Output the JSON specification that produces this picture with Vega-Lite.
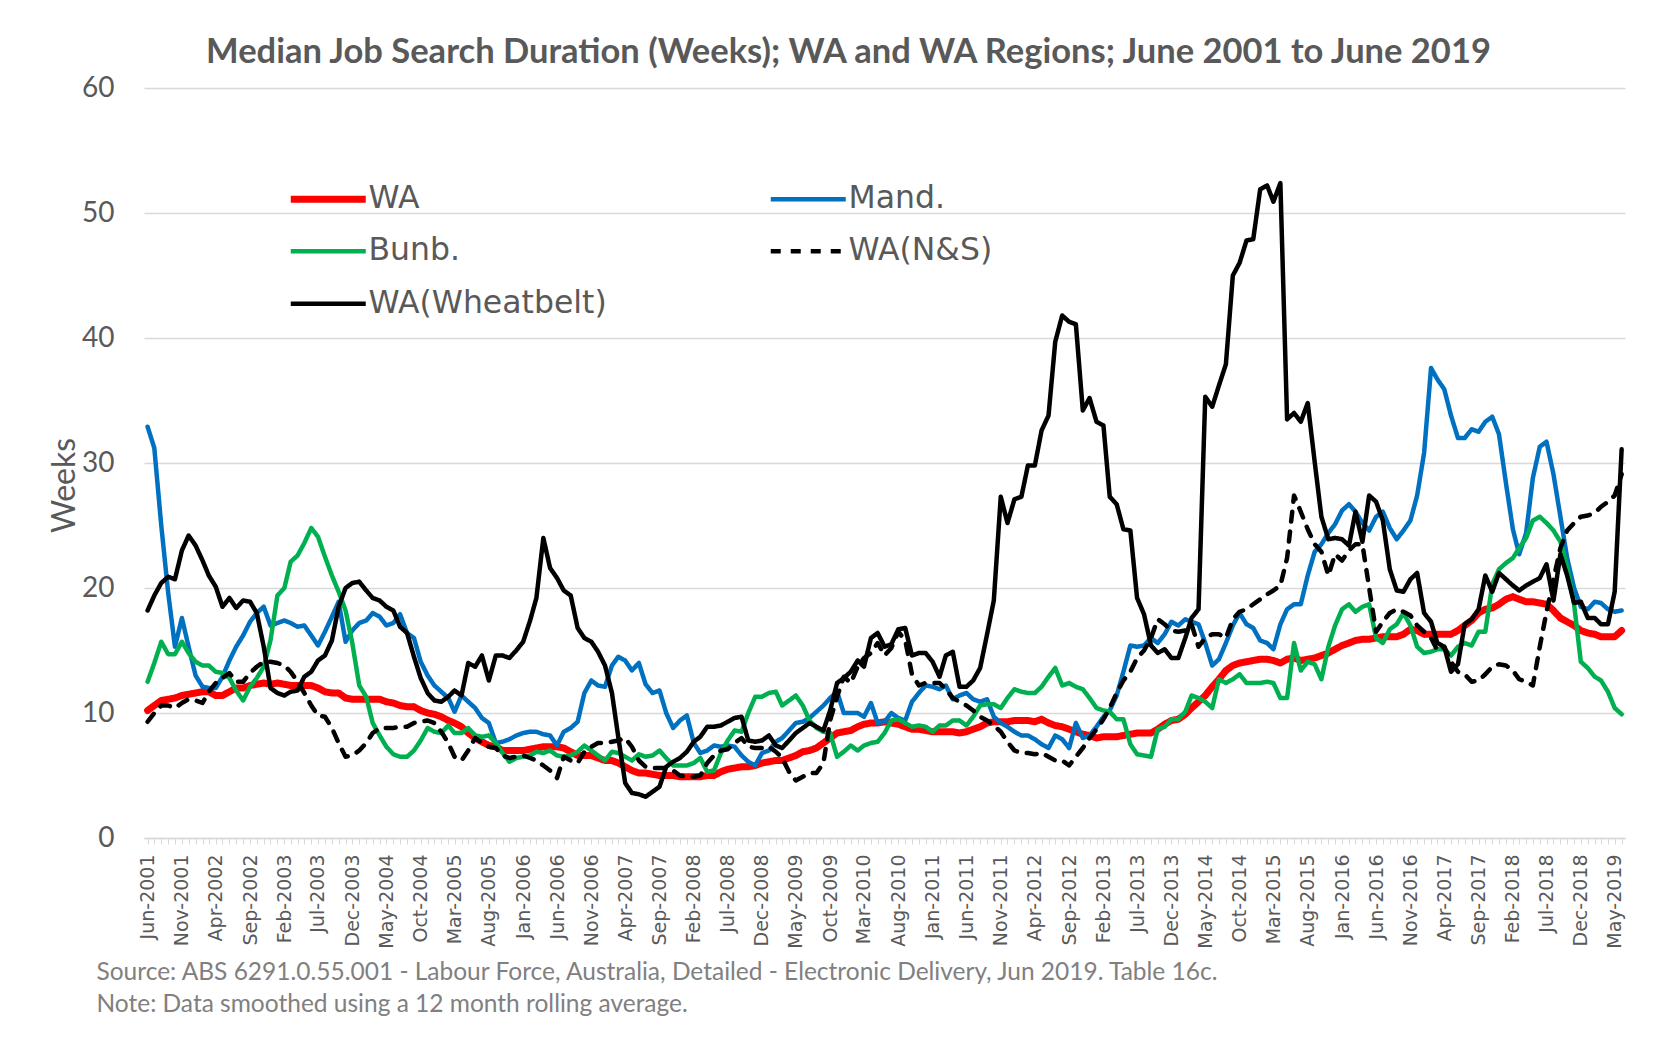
{
"$schema": "https://vega.github.io/schema/vega-lite/v6.json",
"width": 1481, "height": 750,
"autosize": {"type": "none"},
"padding": {"left": 144, "top": 88, "right": 45, "bottom": 216},
"background": "white",
"config": {"view": {"stroke": null}},
"title": {"text": "Median Job Search Duration (Weeks); WA and WA Regions; June 2001 to June 2019", "font": "Lato", "fontSize": 34.5, "fontWeight": "bold", "color": "#595959", "anchor": "middle", "dx": -36, "offset": 4},
"data": {"values": [
{"d":"2001-06","s":"WA","v":10.2},{"d":"2001-07","s":"WA","v":10.6},{"d":"2001-08","s":"WA","v":11.0},{"d":"2001-09","s":"WA","v":11.1},{"d":"2001-10","s":"WA","v":11.2},{"d":"2001-11","s":"WA","v":11.4},{"d":"2001-12","s":"WA","v":11.5},
{"d":"2002-01","s":"WA","v":11.6},{"d":"2002-02","s":"WA","v":11.7},{"d":"2002-03","s":"WA","v":11.7},{"d":"2002-04","s":"WA","v":11.4},{"d":"2002-05","s":"WA","v":11.4},{"d":"2002-06","s":"WA","v":11.7},{"d":"2002-07","s":"WA","v":12.0},{"d":"2002-08","s":"WA","v":12.0},{"d":"2002-09","s":"WA","v":12.2},{"d":"2002-10","s":"WA","v":12.3},{"d":"2002-11","s":"WA","v":12.4},{"d":"2002-12","s":"WA","v":12.3},
{"d":"2003-01","s":"WA","v":12.4},{"d":"2003-02","s":"WA","v":12.3},{"d":"2003-03","s":"WA","v":12.2},{"d":"2003-04","s":"WA","v":12.2},{"d":"2003-05","s":"WA","v":12.2},{"d":"2003-06","s":"WA","v":12.2},{"d":"2003-07","s":"WA","v":12.0},{"d":"2003-08","s":"WA","v":11.7},{"d":"2003-09","s":"WA","v":11.6},{"d":"2003-10","s":"WA","v":11.6},{"d":"2003-11","s":"WA","v":11.2},{"d":"2003-12","s":"WA","v":11.1},
{"d":"2004-01","s":"WA","v":11.1},{"d":"2004-02","s":"WA","v":11.1},{"d":"2004-03","s":"WA","v":11.1},{"d":"2004-04","s":"WA","v":11.1},{"d":"2004-05","s":"WA","v":10.9},{"d":"2004-06","s":"WA","v":10.8},{"d":"2004-07","s":"WA","v":10.6},{"d":"2004-08","s":"WA","v":10.5},{"d":"2004-09","s":"WA","v":10.5},{"d":"2004-10","s":"WA","v":10.2},{"d":"2004-11","s":"WA","v":10.0},{"d":"2004-12","s":"WA","v":9.9},
{"d":"2005-01","s":"WA","v":9.7},{"d":"2005-02","s":"WA","v":9.4},{"d":"2005-03","s":"WA","v":9.2},{"d":"2005-04","s":"WA","v":8.9},{"d":"2005-05","s":"WA","v":8.4},{"d":"2005-06","s":"WA","v":8.0},{"d":"2005-07","s":"WA","v":7.7},{"d":"2005-08","s":"WA","v":7.4},{"d":"2005-09","s":"WA","v":7.3},{"d":"2005-10","s":"WA","v":7.0},{"d":"2005-11","s":"WA","v":7.0},{"d":"2005-12","s":"WA","v":7.0},
{"d":"2006-01","s":"WA","v":7.0},{"d":"2006-02","s":"WA","v":7.1},{"d":"2006-03","s":"WA","v":7.2},{"d":"2006-04","s":"WA","v":7.3},{"d":"2006-05","s":"WA","v":7.3},{"d":"2006-06","s":"WA","v":7.3},{"d":"2006-07","s":"WA","v":7.2},{"d":"2006-08","s":"WA","v":6.9},{"d":"2006-09","s":"WA","v":6.6},{"d":"2006-10","s":"WA","v":6.6},{"d":"2006-11","s":"WA","v":6.6},{"d":"2006-12","s":"WA","v":6.4},
{"d":"2007-01","s":"WA","v":6.2},{"d":"2007-02","s":"WA","v":6.2},{"d":"2007-03","s":"WA","v":6.0},{"d":"2007-04","s":"WA","v":5.7},{"d":"2007-05","s":"WA","v":5.4},{"d":"2007-06","s":"WA","v":5.2},{"d":"2007-07","s":"WA","v":5.2},{"d":"2007-08","s":"WA","v":5.1},{"d":"2007-09","s":"WA","v":5.0},{"d":"2007-10","s":"WA","v":5.0},{"d":"2007-11","s":"WA","v":5.0},{"d":"2007-12","s":"WA","v":4.9},
{"d":"2008-01","s":"WA","v":4.9},{"d":"2008-02","s":"WA","v":4.9},{"d":"2008-03","s":"WA","v":4.9},{"d":"2008-04","s":"WA","v":5.0},{"d":"2008-05","s":"WA","v":5.0},{"d":"2008-06","s":"WA","v":5.3},{"d":"2008-07","s":"WA","v":5.5},{"d":"2008-08","s":"WA","v":5.6},{"d":"2008-09","s":"WA","v":5.7},{"d":"2008-10","s":"WA","v":5.7},{"d":"2008-11","s":"WA","v":5.8},{"d":"2008-12","s":"WA","v":6.0},
{"d":"2009-01","s":"WA","v":6.1},{"d":"2009-02","s":"WA","v":6.2},{"d":"2009-03","s":"WA","v":6.2},{"d":"2009-04","s":"WA","v":6.4},{"d":"2009-05","s":"WA","v":6.6},{"d":"2009-06","s":"WA","v":6.9},{"d":"2009-07","s":"WA","v":7.0},{"d":"2009-08","s":"WA","v":7.2},{"d":"2009-09","s":"WA","v":7.6},{"d":"2009-10","s":"WA","v":8.0},{"d":"2009-11","s":"WA","v":8.4},{"d":"2009-12","s":"WA","v":8.5},
{"d":"2010-01","s":"WA","v":8.6},{"d":"2010-02","s":"WA","v":8.9},{"d":"2010-03","s":"WA","v":9.1},{"d":"2010-04","s":"WA","v":9.2},{"d":"2010-05","s":"WA","v":9.2},{"d":"2010-06","s":"WA","v":9.3},{"d":"2010-07","s":"WA","v":9.2},{"d":"2010-08","s":"WA","v":9.1},{"d":"2010-09","s":"WA","v":8.9},{"d":"2010-10","s":"WA","v":8.7},{"d":"2010-11","s":"WA","v":8.7},{"d":"2010-12","s":"WA","v":8.6},
{"d":"2011-01","s":"WA","v":8.5},{"d":"2011-02","s":"WA","v":8.5},{"d":"2011-03","s":"WA","v":8.5},{"d":"2011-04","s":"WA","v":8.5},{"d":"2011-05","s":"WA","v":8.4},{"d":"2011-06","s":"WA","v":8.5},{"d":"2011-07","s":"WA","v":8.7},{"d":"2011-08","s":"WA","v":8.9},{"d":"2011-09","s":"WA","v":9.2},{"d":"2011-10","s":"WA","v":9.3},{"d":"2011-11","s":"WA","v":9.3},{"d":"2011-12","s":"WA","v":9.3},
{"d":"2012-01","s":"WA","v":9.4},{"d":"2012-02","s":"WA","v":9.4},{"d":"2012-03","s":"WA","v":9.4},{"d":"2012-04","s":"WA","v":9.3},{"d":"2012-05","s":"WA","v":9.5},{"d":"2012-06","s":"WA","v":9.2},{"d":"2012-07","s":"WA","v":9.0},{"d":"2012-08","s":"WA","v":8.9},{"d":"2012-09","s":"WA","v":8.7},{"d":"2012-10","s":"WA","v":8.5},{"d":"2012-11","s":"WA","v":8.3},{"d":"2012-12","s":"WA","v":8.2},
{"d":"2013-01","s":"WA","v":8.0},{"d":"2013-02","s":"WA","v":8.1},{"d":"2013-03","s":"WA","v":8.1},{"d":"2013-04","s":"WA","v":8.1},{"d":"2013-05","s":"WA","v":8.2},{"d":"2013-06","s":"WA","v":8.3},{"d":"2013-07","s":"WA","v":8.4},{"d":"2013-08","s":"WA","v":8.4},{"d":"2013-09","s":"WA","v":8.4},{"d":"2013-10","s":"WA","v":8.7},{"d":"2013-11","s":"WA","v":9.1},{"d":"2013-12","s":"WA","v":9.4},
{"d":"2014-01","s":"WA","v":9.5},{"d":"2014-02","s":"WA","v":9.9},{"d":"2014-03","s":"WA","v":10.4},{"d":"2014-04","s":"WA","v":10.9},{"d":"2014-05","s":"WA","v":11.4},{"d":"2014-06","s":"WA","v":12.1},{"d":"2014-07","s":"WA","v":12.7},{"d":"2014-08","s":"WA","v":13.4},{"d":"2014-09","s":"WA","v":13.8},{"d":"2014-10","s":"WA","v":14.0},{"d":"2014-11","s":"WA","v":14.1},{"d":"2014-12","s":"WA","v":14.2},
{"d":"2015-01","s":"WA","v":14.3},{"d":"2015-02","s":"WA","v":14.3},{"d":"2015-03","s":"WA","v":14.2},{"d":"2015-04","s":"WA","v":14.0},{"d":"2015-05","s":"WA","v":14.3},{"d":"2015-06","s":"WA","v":14.4},{"d":"2015-07","s":"WA","v":14.2},{"d":"2015-08","s":"WA","v":14.3},{"d":"2015-09","s":"WA","v":14.4},{"d":"2015-10","s":"WA","v":14.6},{"d":"2015-11","s":"WA","v":14.8},{"d":"2015-12","s":"WA","v":15.1},
{"d":"2016-01","s":"WA","v":15.4},{"d":"2016-02","s":"WA","v":15.6},{"d":"2016-03","s":"WA","v":15.8},{"d":"2016-04","s":"WA","v":15.9},{"d":"2016-05","s":"WA","v":15.9},{"d":"2016-06","s":"WA","v":16.0},{"d":"2016-07","s":"WA","v":16.1},{"d":"2016-08","s":"WA","v":16.1},{"d":"2016-09","s":"WA","v":16.1},{"d":"2016-10","s":"WA","v":16.3},{"d":"2016-11","s":"WA","v":16.7},{"d":"2016-12","s":"WA","v":16.6},
{"d":"2017-01","s":"WA","v":16.3},{"d":"2017-02","s":"WA","v":16.3},{"d":"2017-03","s":"WA","v":16.3},{"d":"2017-04","s":"WA","v":16.3},{"d":"2017-05","s":"WA","v":16.3},{"d":"2017-06","s":"WA","v":16.6},{"d":"2017-07","s":"WA","v":17.0},{"d":"2017-08","s":"WA","v":17.4},{"d":"2017-09","s":"WA","v":18.0},{"d":"2017-10","s":"WA","v":18.3},{"d":"2017-11","s":"WA","v":18.4},{"d":"2017-12","s":"WA","v":18.7},
{"d":"2018-01","s":"WA","v":19.1},{"d":"2018-02","s":"WA","v":19.3},{"d":"2018-03","s":"WA","v":19.1},{"d":"2018-04","s":"WA","v":18.9},{"d":"2018-05","s":"WA","v":18.9},{"d":"2018-06","s":"WA","v":18.8},{"d":"2018-07","s":"WA","v":18.7},{"d":"2018-08","s":"WA","v":18.2},{"d":"2018-09","s":"WA","v":17.6},{"d":"2018-10","s":"WA","v":17.3},{"d":"2018-11","s":"WA","v":17.0},{"d":"2018-12","s":"WA","v":16.6},
{"d":"2019-01","s":"WA","v":16.4},{"d":"2019-02","s":"WA","v":16.3},{"d":"2019-03","s":"WA","v":16.1},{"d":"2019-04","s":"WA","v":16.1},{"d":"2019-05","s":"WA","v":16.1},{"d":"2019-06","s":"WA","v":16.6},

{"d":"2001-06","s":"Mand.","v":32.9},{"d":"2001-07","s":"Mand.","v":31.2},{"d":"2001-08","s":"Mand.","v":25.0},{"d":"2001-09","s":"Mand.","v":19.6},{"d":"2001-10","s":"Mand.","v":15.3},{"d":"2001-11","s":"Mand.","v":17.6},{"d":"2001-12","s":"Mand.","v":15.3},
{"d":"2002-01","s":"Mand.","v":13.0},{"d":"2002-02","s":"Mand.","v":12.1},{"d":"2002-03","s":"Mand.","v":12.0},{"d":"2002-04","s":"Mand.","v":12.0},{"d":"2002-05","s":"Mand.","v":12.9},{"d":"2002-06","s":"Mand.","v":14.2},{"d":"2002-07","s":"Mand.","v":15.3},{"d":"2002-08","s":"Mand.","v":16.2},{"d":"2002-09","s":"Mand.","v":17.3},{"d":"2002-10","s":"Mand.","v":18.0},{"d":"2002-11","s":"Mand.","v":18.5},{"d":"2002-12","s":"Mand.","v":17.0},
{"d":"2003-01","s":"Mand.","v":17.2},{"d":"2003-02","s":"Mand.","v":17.4},{"d":"2003-03","s":"Mand.","v":17.2},{"d":"2003-04","s":"Mand.","v":16.9},{"d":"2003-05","s":"Mand.","v":17.0},{"d":"2003-06","s":"Mand.","v":16.2},{"d":"2003-07","s":"Mand.","v":15.4},{"d":"2003-08","s":"Mand.","v":16.5},{"d":"2003-09","s":"Mand.","v":17.7},{"d":"2003-10","s":"Mand.","v":18.9},{"d":"2003-11","s":"Mand.","v":15.7},{"d":"2003-12","s":"Mand.","v":16.6},
{"d":"2004-01","s":"Mand.","v":17.2},{"d":"2004-02","s":"Mand.","v":17.4},{"d":"2004-03","s":"Mand.","v":18.0},{"d":"2004-04","s":"Mand.","v":17.7},{"d":"2004-05","s":"Mand.","v":17.0},{"d":"2004-06","s":"Mand.","v":17.2},{"d":"2004-07","s":"Mand.","v":17.9},{"d":"2004-08","s":"Mand.","v":16.4},{"d":"2004-09","s":"Mand.","v":16.0},{"d":"2004-10","s":"Mand.","v":14.1},{"d":"2004-11","s":"Mand.","v":13.0},{"d":"2004-12","s":"Mand.","v":12.2},
{"d":"2005-01","s":"Mand.","v":11.7},{"d":"2005-02","s":"Mand.","v":11.2},{"d":"2005-03","s":"Mand.","v":10.1},{"d":"2005-04","s":"Mand.","v":11.4},{"d":"2005-05","s":"Mand.","v":10.9},{"d":"2005-06","s":"Mand.","v":10.4},{"d":"2005-07","s":"Mand.","v":9.6},{"d":"2005-08","s":"Mand.","v":9.2},{"d":"2005-09","s":"Mand.","v":7.6},{"d":"2005-10","s":"Mand.","v":7.7},{"d":"2005-11","s":"Mand.","v":7.9},{"d":"2005-12","s":"Mand.","v":8.2},
{"d":"2006-01","s":"Mand.","v":8.4},{"d":"2006-02","s":"Mand.","v":8.5},{"d":"2006-03","s":"Mand.","v":8.5},{"d":"2006-04","s":"Mand.","v":8.3},{"d":"2006-05","s":"Mand.","v":8.2},{"d":"2006-06","s":"Mand.","v":7.4},{"d":"2006-07","s":"Mand.","v":8.5},{"d":"2006-08","s":"Mand.","v":8.8},{"d":"2006-09","s":"Mand.","v":9.3},{"d":"2006-10","s":"Mand.","v":11.6},{"d":"2006-11","s":"Mand.","v":12.6},{"d":"2006-12","s":"Mand.","v":12.2},
{"d":"2007-01","s":"Mand.","v":12.1},{"d":"2007-02","s":"Mand.","v":13.8},{"d":"2007-03","s":"Mand.","v":14.5},{"d":"2007-04","s":"Mand.","v":14.2},{"d":"2007-05","s":"Mand.","v":13.4},{"d":"2007-06","s":"Mand.","v":14.0},{"d":"2007-07","s":"Mand.","v":12.3},{"d":"2007-08","s":"Mand.","v":11.6},{"d":"2007-09","s":"Mand.","v":11.8},{"d":"2007-10","s":"Mand.","v":10.0},{"d":"2007-11","s":"Mand.","v":8.8},{"d":"2007-12","s":"Mand.","v":9.4},
{"d":"2008-01","s":"Mand.","v":9.8},{"d":"2008-02","s":"Mand.","v":7.6},{"d":"2008-03","s":"Mand.","v":6.8},{"d":"2008-04","s":"Mand.","v":7.0},{"d":"2008-05","s":"Mand.","v":7.4},{"d":"2008-06","s":"Mand.","v":7.3},{"d":"2008-07","s":"Mand.","v":7.4},{"d":"2008-08","s":"Mand.","v":7.3},{"d":"2008-09","s":"Mand.","v":6.6},{"d":"2008-10","s":"Mand.","v":6.1},{"d":"2008-11","s":"Mand.","v":5.8},{"d":"2008-12","s":"Mand.","v":6.8},
{"d":"2009-01","s":"Mand.","v":7.0},{"d":"2009-02","s":"Mand.","v":7.7},{"d":"2009-03","s":"Mand.","v":8.0},{"d":"2009-04","s":"Mand.","v":8.6},{"d":"2009-05","s":"Mand.","v":9.2},{"d":"2009-06","s":"Mand.","v":9.3},{"d":"2009-07","s":"Mand.","v":9.6},{"d":"2009-08","s":"Mand.","v":10.1},{"d":"2009-09","s":"Mand.","v":10.6},{"d":"2009-10","s":"Mand.","v":11.2},{"d":"2009-11","s":"Mand.","v":11.7},{"d":"2009-12","s":"Mand.","v":10.0},
{"d":"2010-01","s":"Mand.","v":10.0},{"d":"2010-02","s":"Mand.","v":10.0},{"d":"2010-03","s":"Mand.","v":9.7},{"d":"2010-04","s":"Mand.","v":10.8},{"d":"2010-05","s":"Mand.","v":9.2},{"d":"2010-06","s":"Mand.","v":9.3},{"d":"2010-07","s":"Mand.","v":10.0},{"d":"2010-08","s":"Mand.","v":9.6},{"d":"2010-09","s":"Mand.","v":9.4},{"d":"2010-10","s":"Mand.","v":10.9},{"d":"2010-11","s":"Mand.","v":11.6},{"d":"2010-12","s":"Mand.","v":12.2},
{"d":"2011-01","s":"Mand.","v":12.1},{"d":"2011-02","s":"Mand.","v":11.9},{"d":"2011-03","s":"Mand.","v":12.2},{"d":"2011-04","s":"Mand.","v":11.1},{"d":"2011-05","s":"Mand.","v":11.4},{"d":"2011-06","s":"Mand.","v":11.6},{"d":"2011-07","s":"Mand.","v":11.1},{"d":"2011-08","s":"Mand.","v":10.9},{"d":"2011-09","s":"Mand.","v":11.1},{"d":"2011-10","s":"Mand.","v":9.7},{"d":"2011-11","s":"Mand.","v":9.2},{"d":"2011-12","s":"Mand.","v":8.9},
{"d":"2012-01","s":"Mand.","v":8.5},{"d":"2012-02","s":"Mand.","v":8.2},{"d":"2012-03","s":"Mand.","v":8.2},{"d":"2012-04","s":"Mand.","v":7.9},{"d":"2012-05","s":"Mand.","v":7.5},{"d":"2012-06","s":"Mand.","v":7.2},{"d":"2012-07","s":"Mand.","v":8.2},{"d":"2012-08","s":"Mand.","v":7.9},{"d":"2012-09","s":"Mand.","v":7.2},{"d":"2012-10","s":"Mand.","v":9.2},{"d":"2012-11","s":"Mand.","v":8.0},{"d":"2012-12","s":"Mand.","v":8.2},
{"d":"2013-01","s":"Mand.","v":8.9},{"d":"2013-02","s":"Mand.","v":9.7},{"d":"2013-03","s":"Mand.","v":10.2},{"d":"2013-04","s":"Mand.","v":11.4},{"d":"2013-05","s":"Mand.","v":13.3},{"d":"2013-06","s":"Mand.","v":15.4},{"d":"2013-07","s":"Mand.","v":15.3},{"d":"2013-08","s":"Mand.","v":15.4},{"d":"2013-09","s":"Mand.","v":16.0},{"d":"2013-10","s":"Mand.","v":15.6},{"d":"2013-11","s":"Mand.","v":16.3},{"d":"2013-12","s":"Mand.","v":17.3},
{"d":"2014-01","s":"Mand.","v":17.0},{"d":"2014-02","s":"Mand.","v":17.5},{"d":"2014-03","s":"Mand.","v":17.3},{"d":"2014-04","s":"Mand.","v":17.1},{"d":"2014-05","s":"Mand.","v":15.6},{"d":"2014-06","s":"Mand.","v":13.8},{"d":"2014-07","s":"Mand.","v":14.3},{"d":"2014-08","s":"Mand.","v":15.6},{"d":"2014-09","s":"Mand.","v":17.0},{"d":"2014-10","s":"Mand.","v":18.0},{"d":"2014-11","s":"Mand.","v":17.1},{"d":"2014-12","s":"Mand.","v":16.8},
{"d":"2015-01","s":"Mand.","v":15.8},{"d":"2015-02","s":"Mand.","v":15.6},{"d":"2015-03","s":"Mand.","v":15.1},{"d":"2015-04","s":"Mand.","v":17.1},{"d":"2015-05","s":"Mand.","v":18.3},{"d":"2015-06","s":"Mand.","v":18.7},{"d":"2015-07","s":"Mand.","v":18.7},{"d":"2015-08","s":"Mand.","v":21.0},{"d":"2015-09","s":"Mand.","v":22.9},{"d":"2015-10","s":"Mand.","v":23.5},{"d":"2015-11","s":"Mand.","v":24.4},{"d":"2015-12","s":"Mand.","v":25.1},
{"d":"2016-01","s":"Mand.","v":26.2},{"d":"2016-02","s":"Mand.","v":26.7},{"d":"2016-03","s":"Mand.","v":26.1},{"d":"2016-04","s":"Mand.","v":25.2},{"d":"2016-05","s":"Mand.","v":24.6},{"d":"2016-06","s":"Mand.","v":25.7},{"d":"2016-07","s":"Mand.","v":26.1},{"d":"2016-08","s":"Mand.","v":24.8},{"d":"2016-09","s":"Mand.","v":23.9},{"d":"2016-10","s":"Mand.","v":24.6},{"d":"2016-11","s":"Mand.","v":25.4},{"d":"2016-12","s":"Mand.","v":27.4},
{"d":"2017-01","s":"Mand.","v":30.8},{"d":"2017-02","s":"Mand.","v":37.6},{"d":"2017-03","s":"Mand.","v":36.7},{"d":"2017-04","s":"Mand.","v":35.9},{"d":"2017-05","s":"Mand.","v":33.8},{"d":"2017-06","s":"Mand.","v":32.0},{"d":"2017-07","s":"Mand.","v":32.0},{"d":"2017-08","s":"Mand.","v":32.7},{"d":"2017-09","s":"Mand.","v":32.5},{"d":"2017-10","s":"Mand.","v":33.3},{"d":"2017-11","s":"Mand.","v":33.7},{"d":"2017-12","s":"Mand.","v":32.3},
{"d":"2018-01","s":"Mand.","v":28.4},{"d":"2018-02","s":"Mand.","v":24.7},{"d":"2018-03","s":"Mand.","v":22.7},{"d":"2018-04","s":"Mand.","v":24.4},{"d":"2018-05","s":"Mand.","v":28.8},{"d":"2018-06","s":"Mand.","v":31.3},{"d":"2018-07","s":"Mand.","v":31.7},{"d":"2018-08","s":"Mand.","v":29.1},{"d":"2018-09","s":"Mand.","v":25.7},{"d":"2018-10","s":"Mand.","v":22.4},{"d":"2018-11","s":"Mand.","v":20.0},{"d":"2018-12","s":"Mand.","v":18.5},
{"d":"2019-01","s":"Mand.","v":18.3},{"d":"2019-02","s":"Mand.","v":18.9},{"d":"2019-03","s":"Mand.","v":18.8},{"d":"2019-04","s":"Mand.","v":18.3},{"d":"2019-05","s":"Mand.","v":18.1},{"d":"2019-06","s":"Mand.","v":18.2},

{"d":"2001-06","s":"Bunb.","v":12.5},{"d":"2001-07","s":"Bunb.","v":14.0},{"d":"2001-08","s":"Bunb.","v":15.7},{"d":"2001-09","s":"Bunb.","v":14.7},{"d":"2001-10","s":"Bunb.","v":14.7},{"d":"2001-11","s":"Bunb.","v":15.7},{"d":"2001-12","s":"Bunb.","v":14.8},
{"d":"2002-01","s":"Bunb.","v":14.1},{"d":"2002-02","s":"Bunb.","v":13.8},{"d":"2002-03","s":"Bunb.","v":13.8},{"d":"2002-04","s":"Bunb.","v":13.3},{"d":"2002-05","s":"Bunb.","v":13.2},{"d":"2002-06","s":"Bunb.","v":12.8},{"d":"2002-07","s":"Bunb.","v":11.8},{"d":"2002-08","s":"Bunb.","v":11.0},{"d":"2002-09","s":"Bunb.","v":12.1},{"d":"2002-10","s":"Bunb.","v":12.8},{"d":"2002-11","s":"Bunb.","v":13.7},{"d":"2002-12","s":"Bunb.","v":15.8},
{"d":"2003-01","s":"Bunb.","v":19.4},{"d":"2003-02","s":"Bunb.","v":20.0},{"d":"2003-03","s":"Bunb.","v":22.1},{"d":"2003-04","s":"Bunb.","v":22.6},{"d":"2003-05","s":"Bunb.","v":23.6},{"d":"2003-06","s":"Bunb.","v":24.8},{"d":"2003-07","s":"Bunb.","v":24.1},{"d":"2003-08","s":"Bunb.","v":22.5},{"d":"2003-09","s":"Bunb.","v":21.0},{"d":"2003-10","s":"Bunb.","v":19.7},{"d":"2003-11","s":"Bunb.","v":18.2},{"d":"2003-12","s":"Bunb.","v":15.6},
{"d":"2004-01","s":"Bunb.","v":12.2},{"d":"2004-02","s":"Bunb.","v":11.3},{"d":"2004-03","s":"Bunb.","v":9.2},{"d":"2004-04","s":"Bunb.","v":8.2},{"d":"2004-05","s":"Bunb.","v":7.3},{"d":"2004-06","s":"Bunb.","v":6.7},{"d":"2004-07","s":"Bunb.","v":6.5},{"d":"2004-08","s":"Bunb.","v":6.5},{"d":"2004-09","s":"Bunb.","v":7.0},{"d":"2004-10","s":"Bunb.","v":7.8},{"d":"2004-11","s":"Bunb.","v":8.8},{"d":"2004-12","s":"Bunb.","v":8.5},
{"d":"2005-01","s":"Bunb.","v":8.4},{"d":"2005-02","s":"Bunb.","v":9.0},{"d":"2005-03","s":"Bunb.","v":8.4},{"d":"2005-04","s":"Bunb.","v":8.4},{"d":"2005-05","s":"Bunb.","v":8.8},{"d":"2005-06","s":"Bunb.","v":8.2},{"d":"2005-07","s":"Bunb.","v":8.1},{"d":"2005-08","s":"Bunb.","v":8.2},{"d":"2005-09","s":"Bunb.","v":7.6},{"d":"2005-10","s":"Bunb.","v":6.8},{"d":"2005-11","s":"Bunb.","v":6.1},{"d":"2005-12","s":"Bunb.","v":6.4},
{"d":"2006-01","s":"Bunb.","v":6.5},{"d":"2006-02","s":"Bunb.","v":6.6},{"d":"2006-03","s":"Bunb.","v":6.9},{"d":"2006-04","s":"Bunb.","v":6.8},{"d":"2006-05","s":"Bunb.","v":7.0},{"d":"2006-06","s":"Bunb.","v":6.6},{"d":"2006-07","s":"Bunb.","v":6.5},{"d":"2006-08","s":"Bunb.","v":6.6},{"d":"2006-09","s":"Bunb.","v":6.9},{"d":"2006-10","s":"Bunb.","v":7.4},{"d":"2006-11","s":"Bunb.","v":7.0},{"d":"2006-12","s":"Bunb.","v":6.6},
{"d":"2007-01","s":"Bunb.","v":6.2},{"d":"2007-02","s":"Bunb.","v":6.9},{"d":"2007-03","s":"Bunb.","v":6.8},{"d":"2007-04","s":"Bunb.","v":6.5},{"d":"2007-05","s":"Bunb.","v":6.2},{"d":"2007-06","s":"Bunb.","v":6.7},{"d":"2007-07","s":"Bunb.","v":6.5},{"d":"2007-08","s":"Bunb.","v":6.6},{"d":"2007-09","s":"Bunb.","v":7.0},{"d":"2007-10","s":"Bunb.","v":6.4},{"d":"2007-11","s":"Bunb.","v":5.8},{"d":"2007-12","s":"Bunb.","v":5.8},
{"d":"2008-01","s":"Bunb.","v":5.8},{"d":"2008-02","s":"Bunb.","v":6.0},{"d":"2008-03","s":"Bunb.","v":6.4},{"d":"2008-04","s":"Bunb.","v":5.3},{"d":"2008-05","s":"Bunb.","v":5.4},{"d":"2008-06","s":"Bunb.","v":6.8},{"d":"2008-07","s":"Bunb.","v":7.8},{"d":"2008-08","s":"Bunb.","v":8.6},{"d":"2008-09","s":"Bunb.","v":8.5},{"d":"2008-10","s":"Bunb.","v":10.0},{"d":"2008-11","s":"Bunb.","v":11.3},{"d":"2008-12","s":"Bunb.","v":11.3},
{"d":"2009-01","s":"Bunb.","v":11.6},{"d":"2009-02","s":"Bunb.","v":11.7},{"d":"2009-03","s":"Bunb.","v":10.6},{"d":"2009-04","s":"Bunb.","v":11.0},{"d":"2009-05","s":"Bunb.","v":11.4},{"d":"2009-06","s":"Bunb.","v":10.6},{"d":"2009-07","s":"Bunb.","v":9.4},{"d":"2009-08","s":"Bunb.","v":8.8},{"d":"2009-09","s":"Bunb.","v":8.5},{"d":"2009-10","s":"Bunb.","v":8.4},{"d":"2009-11","s":"Bunb.","v":6.5},{"d":"2009-12","s":"Bunb.","v":6.9},
{"d":"2010-01","s":"Bunb.","v":7.4},{"d":"2010-02","s":"Bunb.","v":7.0},{"d":"2010-03","s":"Bunb.","v":7.4},{"d":"2010-04","s":"Bunb.","v":7.6},{"d":"2010-05","s":"Bunb.","v":7.7},{"d":"2010-06","s":"Bunb.","v":8.4},{"d":"2010-07","s":"Bunb.","v":9.4},{"d":"2010-08","s":"Bunb.","v":9.5},{"d":"2010-09","s":"Bunb.","v":9.2},{"d":"2010-10","s":"Bunb.","v":8.9},{"d":"2010-11","s":"Bunb.","v":9.0},{"d":"2010-12","s":"Bunb.","v":8.9},
{"d":"2011-01","s":"Bunb.","v":8.5},{"d":"2011-02","s":"Bunb.","v":9.0},{"d":"2011-03","s":"Bunb.","v":9.0},{"d":"2011-04","s":"Bunb.","v":9.4},{"d":"2011-05","s":"Bunb.","v":9.4},{"d":"2011-06","s":"Bunb.","v":9.0},{"d":"2011-07","s":"Bunb.","v":9.7},{"d":"2011-08","s":"Bunb.","v":10.6},{"d":"2011-09","s":"Bunb.","v":10.7},{"d":"2011-10","s":"Bunb.","v":10.7},{"d":"2011-11","s":"Bunb.","v":10.4},{"d":"2011-12","s":"Bunb.","v":11.2},
{"d":"2012-01","s":"Bunb.","v":11.9},{"d":"2012-02","s":"Bunb.","v":11.7},{"d":"2012-03","s":"Bunb.","v":11.6},{"d":"2012-04","s":"Bunb.","v":11.6},{"d":"2012-05","s":"Bunb.","v":12.1},{"d":"2012-06","s":"Bunb.","v":12.9},{"d":"2012-07","s":"Bunb.","v":13.6},{"d":"2012-08","s":"Bunb.","v":12.2},{"d":"2012-09","s":"Bunb.","v":12.4},{"d":"2012-10","s":"Bunb.","v":12.1},{"d":"2012-11","s":"Bunb.","v":11.9},{"d":"2012-12","s":"Bunb.","v":11.2},
{"d":"2013-01","s":"Bunb.","v":10.4},{"d":"2013-02","s":"Bunb.","v":10.2},{"d":"2013-03","s":"Bunb.","v":10.1},{"d":"2013-04","s":"Bunb.","v":9.5},{"d":"2013-05","s":"Bunb.","v":9.5},{"d":"2013-06","s":"Bunb.","v":7.5},{"d":"2013-07","s":"Bunb.","v":6.7},{"d":"2013-08","s":"Bunb.","v":6.6},{"d":"2013-09","s":"Bunb.","v":6.5},{"d":"2013-10","s":"Bunb.","v":8.7},{"d":"2013-11","s":"Bunb.","v":8.9},{"d":"2013-12","s":"Bunb.","v":9.5},
{"d":"2014-01","s":"Bunb.","v":9.5},{"d":"2014-02","s":"Bunb.","v":10.1},{"d":"2014-03","s":"Bunb.","v":11.4},{"d":"2014-04","s":"Bunb.","v":11.2},{"d":"2014-05","s":"Bunb.","v":10.9},{"d":"2014-06","s":"Bunb.","v":10.4},{"d":"2014-07","s":"Bunb.","v":12.7},{"d":"2014-08","s":"Bunb.","v":12.4},{"d":"2014-09","s":"Bunb.","v":12.7},{"d":"2014-10","s":"Bunb.","v":13.1},{"d":"2014-11","s":"Bunb.","v":12.4},{"d":"2014-12","s":"Bunb.","v":12.4},
{"d":"2015-01","s":"Bunb.","v":12.4},{"d":"2015-02","s":"Bunb.","v":12.5},{"d":"2015-03","s":"Bunb.","v":12.4},{"d":"2015-04","s":"Bunb.","v":11.2},{"d":"2015-05","s":"Bunb.","v":11.2},{"d":"2015-06","s":"Bunb.","v":15.6},{"d":"2015-07","s":"Bunb.","v":13.4},{"d":"2015-08","s":"Bunb.","v":14.1},{"d":"2015-09","s":"Bunb.","v":13.9},{"d":"2015-10","s":"Bunb.","v":12.7},{"d":"2015-11","s":"Bunb.","v":15.3},{"d":"2015-12","s":"Bunb.","v":17.0},
{"d":"2016-01","s":"Bunb.","v":18.3},{"d":"2016-02","s":"Bunb.","v":18.7},{"d":"2016-03","s":"Bunb.","v":18.1},{"d":"2016-04","s":"Bunb.","v":18.5},{"d":"2016-05","s":"Bunb.","v":18.7},{"d":"2016-06","s":"Bunb.","v":16.0},{"d":"2016-07","s":"Bunb.","v":15.6},{"d":"2016-08","s":"Bunb.","v":16.7},{"d":"2016-09","s":"Bunb.","v":17.1},{"d":"2016-10","s":"Bunb.","v":18.0},{"d":"2016-11","s":"Bunb.","v":17.0},{"d":"2016-12","s":"Bunb.","v":15.3},
{"d":"2017-01","s":"Bunb.","v":14.8},{"d":"2017-02","s":"Bunb.","v":14.9},{"d":"2017-03","s":"Bunb.","v":15.1},{"d":"2017-04","s":"Bunb.","v":15.1},{"d":"2017-05","s":"Bunb.","v":14.6},{"d":"2017-06","s":"Bunb.","v":15.3},{"d":"2017-07","s":"Bunb.","v":15.6},{"d":"2017-08","s":"Bunb.","v":15.4},{"d":"2017-09","s":"Bunb.","v":16.5},{"d":"2017-10","s":"Bunb.","v":16.5},{"d":"2017-11","s":"Bunb.","v":20.3},{"d":"2017-12","s":"Bunb.","v":21.5},
{"d":"2018-01","s":"Bunb.","v":22.0},{"d":"2018-02","s":"Bunb.","v":22.4},{"d":"2018-03","s":"Bunb.","v":23.2},{"d":"2018-04","s":"Bunb.","v":24.0},{"d":"2018-05","s":"Bunb.","v":25.4},{"d":"2018-06","s":"Bunb.","v":25.7},{"d":"2018-07","s":"Bunb.","v":25.2},{"d":"2018-08","s":"Bunb.","v":24.6},{"d":"2018-09","s":"Bunb.","v":23.7},{"d":"2018-10","s":"Bunb.","v":21.7},{"d":"2018-11","s":"Bunb.","v":18.7},{"d":"2018-12","s":"Bunb.","v":14.1},
{"d":"2019-01","s":"Bunb.","v":13.6},{"d":"2019-02","s":"Bunb.","v":12.9},{"d":"2019-03","s":"Bunb.","v":12.6},{"d":"2019-04","s":"Bunb.","v":11.7},{"d":"2019-05","s":"Bunb.","v":10.4},{"d":"2019-06","s":"Bunb.","v":9.9},

{"d":"2001-06","s":"WA(N&S)","v":9.3},{"d":"2001-07","s":"WA(N&S)","v":10.0},{"d":"2001-08","s":"WA(N&S)","v":10.6},{"d":"2001-09","s":"WA(N&S)","v":10.6},{"d":"2001-10","s":"WA(N&S)","v":10.4},{"d":"2001-11","s":"WA(N&S)","v":10.8},{"d":"2001-12","s":"WA(N&S)","v":11.1},
{"d":"2002-01","s":"WA(N&S)","v":11.0},{"d":"2002-02","s":"WA(N&S)","v":10.8},{"d":"2002-03","s":"WA(N&S)","v":11.7},{"d":"2002-04","s":"WA(N&S)","v":12.4},{"d":"2002-05","s":"WA(N&S)","v":12.8},{"d":"2002-06","s":"WA(N&S)","v":13.2},{"d":"2002-07","s":"WA(N&S)","v":12.5},{"d":"2002-08","s":"WA(N&S)","v":12.5},{"d":"2002-09","s":"WA(N&S)","v":13.2},{"d":"2002-10","s":"WA(N&S)","v":13.7},{"d":"2002-11","s":"WA(N&S)","v":14.1},{"d":"2002-12","s":"WA(N&S)","v":14.1},
{"d":"2003-01","s":"WA(N&S)","v":14.0},{"d":"2003-02","s":"WA(N&S)","v":13.8},{"d":"2003-03","s":"WA(N&S)","v":13.3},{"d":"2003-04","s":"WA(N&S)","v":12.5},{"d":"2003-05","s":"WA(N&S)","v":11.6},{"d":"2003-06","s":"WA(N&S)","v":10.6},{"d":"2003-07","s":"WA(N&S)","v":9.8},{"d":"2003-08","s":"WA(N&S)","v":9.7},{"d":"2003-09","s":"WA(N&S)","v":8.8},{"d":"2003-10","s":"WA(N&S)","v":7.6},{"d":"2003-11","s":"WA(N&S)","v":6.5},{"d":"2003-12","s":"WA(N&S)","v":6.6},
{"d":"2004-01","s":"WA(N&S)","v":7.0},{"d":"2004-02","s":"WA(N&S)","v":7.6},{"d":"2004-03","s":"WA(N&S)","v":8.4},{"d":"2004-04","s":"WA(N&S)","v":8.8},{"d":"2004-05","s":"WA(N&S)","v":8.8},{"d":"2004-06","s":"WA(N&S)","v":8.8},{"d":"2004-07","s":"WA(N&S)","v":8.9},{"d":"2004-08","s":"WA(N&S)","v":8.9},{"d":"2004-09","s":"WA(N&S)","v":9.2},{"d":"2004-10","s":"WA(N&S)","v":9.3},{"d":"2004-11","s":"WA(N&S)","v":9.4},{"d":"2004-12","s":"WA(N&S)","v":9.2},
{"d":"2005-01","s":"WA(N&S)","v":8.5},{"d":"2005-02","s":"WA(N&S)","v":7.6},{"d":"2005-03","s":"WA(N&S)","v":6.5},{"d":"2005-04","s":"WA(N&S)","v":6.2},{"d":"2005-05","s":"WA(N&S)","v":7.0},{"d":"2005-06","s":"WA(N&S)","v":8.0},{"d":"2005-07","s":"WA(N&S)","v":7.6},{"d":"2005-08","s":"WA(N&S)","v":7.3},{"d":"2005-09","s":"WA(N&S)","v":7.2},{"d":"2005-10","s":"WA(N&S)","v":6.6},{"d":"2005-11","s":"WA(N&S)","v":6.4},{"d":"2005-12","s":"WA(N&S)","v":6.5},
{"d":"2006-01","s":"WA(N&S)","v":6.6},{"d":"2006-02","s":"WA(N&S)","v":6.4},{"d":"2006-03","s":"WA(N&S)","v":6.2},{"d":"2006-04","s":"WA(N&S)","v":5.8},{"d":"2006-05","s":"WA(N&S)","v":5.4},{"d":"2006-06","s":"WA(N&S)","v":4.8},{"d":"2006-07","s":"WA(N&S)","v":6.5},{"d":"2006-08","s":"WA(N&S)","v":6.2},{"d":"2006-09","s":"WA(N&S)","v":6.0},{"d":"2006-10","s":"WA(N&S)","v":6.9},{"d":"2006-11","s":"WA(N&S)","v":7.3},{"d":"2006-12","s":"WA(N&S)","v":7.6},
{"d":"2007-01","s":"WA(N&S)","v":7.6},{"d":"2007-02","s":"WA(N&S)","v":7.7},{"d":"2007-03","s":"WA(N&S)","v":7.8},{"d":"2007-04","s":"WA(N&S)","v":8.0},{"d":"2007-05","s":"WA(N&S)","v":7.3},{"d":"2007-06","s":"WA(N&S)","v":6.2},{"d":"2007-07","s":"WA(N&S)","v":5.7},{"d":"2007-08","s":"WA(N&S)","v":5.6},{"d":"2007-09","s":"WA(N&S)","v":5.6},{"d":"2007-10","s":"WA(N&S)","v":5.6},{"d":"2007-11","s":"WA(N&S)","v":5.4},{"d":"2007-12","s":"WA(N&S)","v":5.0},
{"d":"2008-01","s":"WA(N&S)","v":4.9},{"d":"2008-02","s":"WA(N&S)","v":4.9},{"d":"2008-03","s":"WA(N&S)","v":5.0},{"d":"2008-04","s":"WA(N&S)","v":6.0},{"d":"2008-05","s":"WA(N&S)","v":6.6},{"d":"2008-06","s":"WA(N&S)","v":7.0},{"d":"2008-07","s":"WA(N&S)","v":7.1},{"d":"2008-08","s":"WA(N&S)","v":7.6},{"d":"2008-09","s":"WA(N&S)","v":8.0},{"d":"2008-10","s":"WA(N&S)","v":7.3},{"d":"2008-11","s":"WA(N&S)","v":7.2},{"d":"2008-12","s":"WA(N&S)","v":7.2},
{"d":"2009-01","s":"WA(N&S)","v":7.3},{"d":"2009-02","s":"WA(N&S)","v":6.9},{"d":"2009-03","s":"WA(N&S)","v":6.4},{"d":"2009-04","s":"WA(N&S)","v":5.3},{"d":"2009-05","s":"WA(N&S)","v":4.6},{"d":"2009-06","s":"WA(N&S)","v":4.9},{"d":"2009-07","s":"WA(N&S)","v":5.2},{"d":"2009-08","s":"WA(N&S)","v":5.2},{"d":"2009-09","s":"WA(N&S)","v":6.0},{"d":"2009-10","s":"WA(N&S)","v":9.4},{"d":"2009-11","s":"WA(N&S)","v":11.3},{"d":"2009-12","s":"WA(N&S)","v":12.9},
{"d":"2010-01","s":"WA(N&S)","v":12.4},{"d":"2010-02","s":"WA(N&S)","v":13.7},{"d":"2010-03","s":"WA(N&S)","v":14.4},{"d":"2010-04","s":"WA(N&S)","v":14.8},{"d":"2010-05","s":"WA(N&S)","v":15.6},{"d":"2010-06","s":"WA(N&S)","v":14.6},{"d":"2010-07","s":"WA(N&S)","v":15.2},{"d":"2010-08","s":"WA(N&S)","v":16.5},{"d":"2010-09","s":"WA(N&S)","v":15.8},{"d":"2010-10","s":"WA(N&S)","v":13.1},{"d":"2010-11","s":"WA(N&S)","v":12.2},{"d":"2010-12","s":"WA(N&S)","v":12.4},
{"d":"2011-01","s":"WA(N&S)","v":12.4},{"d":"2011-02","s":"WA(N&S)","v":12.4},{"d":"2011-03","s":"WA(N&S)","v":11.9},{"d":"2011-04","s":"WA(N&S)","v":11.2},{"d":"2011-05","s":"WA(N&S)","v":10.9},{"d":"2011-06","s":"WA(N&S)","v":10.6},{"d":"2011-07","s":"WA(N&S)","v":10.2},{"d":"2011-08","s":"WA(N&S)","v":9.7},{"d":"2011-09","s":"WA(N&S)","v":9.4},{"d":"2011-10","s":"WA(N&S)","v":9.0},{"d":"2011-11","s":"WA(N&S)","v":8.5},{"d":"2011-12","s":"WA(N&S)","v":7.7},
{"d":"2012-01","s":"WA(N&S)","v":7.0},{"d":"2012-02","s":"WA(N&S)","v":6.8},{"d":"2012-03","s":"WA(N&S)","v":6.8},{"d":"2012-04","s":"WA(N&S)","v":6.7},{"d":"2012-05","s":"WA(N&S)","v":6.8},{"d":"2012-06","s":"WA(N&S)","v":6.5},{"d":"2012-07","s":"WA(N&S)","v":6.2},{"d":"2012-08","s":"WA(N&S)","v":6.2},{"d":"2012-09","s":"WA(N&S)","v":5.8},{"d":"2012-10","s":"WA(N&S)","v":6.5},{"d":"2012-11","s":"WA(N&S)","v":7.2},{"d":"2012-12","s":"WA(N&S)","v":8.0},
{"d":"2013-01","s":"WA(N&S)","v":8.7},{"d":"2013-02","s":"WA(N&S)","v":9.5},{"d":"2013-03","s":"WA(N&S)","v":10.4},{"d":"2013-04","s":"WA(N&S)","v":11.6},{"d":"2013-05","s":"WA(N&S)","v":12.6},{"d":"2013-06","s":"WA(N&S)","v":13.3},{"d":"2013-07","s":"WA(N&S)","v":14.4},{"d":"2013-08","s":"WA(N&S)","v":15.0},{"d":"2013-09","s":"WA(N&S)","v":16.0},{"d":"2013-10","s":"WA(N&S)","v":17.5},{"d":"2013-11","s":"WA(N&S)","v":17.1},{"d":"2013-12","s":"WA(N&S)","v":16.6},
{"d":"2014-01","s":"WA(N&S)","v":16.5},{"d":"2014-02","s":"WA(N&S)","v":16.6},{"d":"2014-03","s":"WA(N&S)","v":17.1},{"d":"2014-04","s":"WA(N&S)","v":15.3},{"d":"2014-05","s":"WA(N&S)","v":16.0},{"d":"2014-06","s":"WA(N&S)","v":16.3},{"d":"2014-07","s":"WA(N&S)","v":16.3},{"d":"2014-08","s":"WA(N&S)","v":16.0},{"d":"2014-09","s":"WA(N&S)","v":17.5},{"d":"2014-10","s":"WA(N&S)","v":18.1},{"d":"2014-11","s":"WA(N&S)","v":18.3},{"d":"2014-12","s":"WA(N&S)","v":18.7},
{"d":"2015-01","s":"WA(N&S)","v":19.1},{"d":"2015-02","s":"WA(N&S)","v":19.5},{"d":"2015-03","s":"WA(N&S)","v":19.8},{"d":"2015-04","s":"WA(N&S)","v":20.2},{"d":"2015-05","s":"WA(N&S)","v":22.4},{"d":"2015-06","s":"WA(N&S)","v":27.4},{"d":"2015-07","s":"WA(N&S)","v":26.1},{"d":"2015-08","s":"WA(N&S)","v":24.7},{"d":"2015-09","s":"WA(N&S)","v":23.5},{"d":"2015-10","s":"WA(N&S)","v":22.9},{"d":"2015-11","s":"WA(N&S)","v":21.0},{"d":"2015-12","s":"WA(N&S)","v":22.7},
{"d":"2016-01","s":"WA(N&S)","v":22.2},{"d":"2016-02","s":"WA(N&S)","v":23.0},{"d":"2016-03","s":"WA(N&S)","v":23.5},{"d":"2016-04","s":"WA(N&S)","v":23.5},{"d":"2016-05","s":"WA(N&S)","v":20.0},{"d":"2016-06","s":"WA(N&S)","v":16.5},{"d":"2016-07","s":"WA(N&S)","v":17.3},{"d":"2016-08","s":"WA(N&S)","v":18.0},{"d":"2016-09","s":"WA(N&S)","v":18.3},{"d":"2016-10","s":"WA(N&S)","v":18.1},{"d":"2016-11","s":"WA(N&S)","v":17.8},{"d":"2016-12","s":"WA(N&S)","v":17.0},
{"d":"2017-01","s":"WA(N&S)","v":16.5},{"d":"2017-02","s":"WA(N&S)","v":16.0},{"d":"2017-03","s":"WA(N&S)","v":15.0},{"d":"2017-04","s":"WA(N&S)","v":15.3},{"d":"2017-05","s":"WA(N&S)","v":14.1},{"d":"2017-06","s":"WA(N&S)","v":13.3},{"d":"2017-07","s":"WA(N&S)","v":13.1},{"d":"2017-08","s":"WA(N&S)","v":12.5},{"d":"2017-09","s":"WA(N&S)","v":12.6},{"d":"2017-10","s":"WA(N&S)","v":13.1},{"d":"2017-11","s":"WA(N&S)","v":13.7},{"d":"2017-12","s":"WA(N&S)","v":13.9},
{"d":"2018-01","s":"WA(N&S)","v":13.8},{"d":"2018-02","s":"WA(N&S)","v":13.4},{"d":"2018-03","s":"WA(N&S)","v":12.7},{"d":"2018-04","s":"WA(N&S)","v":12.5},{"d":"2018-05","s":"WA(N&S)","v":12.2},{"d":"2018-06","s":"WA(N&S)","v":15.3},{"d":"2018-07","s":"WA(N&S)","v":18.1},{"d":"2018-08","s":"WA(N&S)","v":20.7},{"d":"2018-09","s":"WA(N&S)","v":23.2},{"d":"2018-10","s":"WA(N&S)","v":24.6},{"d":"2018-11","s":"WA(N&S)","v":25.2},{"d":"2018-12","s":"WA(N&S)","v":25.7},
{"d":"2019-01","s":"WA(N&S)","v":25.8},{"d":"2019-02","s":"WA(N&S)","v":26.0},{"d":"2019-03","s":"WA(N&S)","v":26.5},{"d":"2019-04","s":"WA(N&S)","v":26.9},{"d":"2019-05","s":"WA(N&S)","v":27.4},{"d":"2019-06","s":"WA(N&S)","v":29.1},

{"d":"2001-06","s":"WA(Wheatbelt)","v":18.2},{"d":"2001-07","s":"WA(Wheatbelt)","v":19.4},{"d":"2001-08","s":"WA(Wheatbelt)","v":20.4},{"d":"2001-09","s":"WA(Wheatbelt)","v":20.9},{"d":"2001-10","s":"WA(Wheatbelt)","v":20.7},{"d":"2001-11","s":"WA(Wheatbelt)","v":23.0},{"d":"2001-12","s":"WA(Wheatbelt)","v":24.2},
{"d":"2002-01","s":"WA(Wheatbelt)","v":23.4},{"d":"2002-02","s":"WA(Wheatbelt)","v":22.2},{"d":"2002-03","s":"WA(Wheatbelt)","v":21.0},{"d":"2002-04","s":"WA(Wheatbelt)","v":20.1},{"d":"2002-05","s":"WA(Wheatbelt)","v":18.5},{"d":"2002-06","s":"WA(Wheatbelt)","v":19.2},{"d":"2002-07","s":"WA(Wheatbelt)","v":18.4},{"d":"2002-08","s":"WA(Wheatbelt)","v":19.0},{"d":"2002-09","s":"WA(Wheatbelt)","v":18.9},{"d":"2002-10","s":"WA(Wheatbelt)","v":18.0},{"d":"2002-11","s":"WA(Wheatbelt)","v":15.3},{"d":"2002-12","s":"WA(Wheatbelt)","v":12.0},
{"d":"2003-01","s":"WA(Wheatbelt)","v":11.6},{"d":"2003-02","s":"WA(Wheatbelt)","v":11.4},{"d":"2003-03","s":"WA(Wheatbelt)","v":11.7},{"d":"2003-04","s":"WA(Wheatbelt)","v":11.8},{"d":"2003-05","s":"WA(Wheatbelt)","v":12.9},{"d":"2003-06","s":"WA(Wheatbelt)","v":13.3},{"d":"2003-07","s":"WA(Wheatbelt)","v":14.2},{"d":"2003-08","s":"WA(Wheatbelt)","v":14.6},{"d":"2003-09","s":"WA(Wheatbelt)","v":15.8},{"d":"2003-10","s":"WA(Wheatbelt)","v":18.5},{"d":"2003-11","s":"WA(Wheatbelt)","v":20.0},{"d":"2003-12","s":"WA(Wheatbelt)","v":20.4},
{"d":"2004-01","s":"WA(Wheatbelt)","v":20.5},{"d":"2004-02","s":"WA(Wheatbelt)","v":19.8},{"d":"2004-03","s":"WA(Wheatbelt)","v":19.2},{"d":"2004-04","s":"WA(Wheatbelt)","v":19.0},{"d":"2004-05","s":"WA(Wheatbelt)","v":18.5},{"d":"2004-06","s":"WA(Wheatbelt)","v":18.2},{"d":"2004-07","s":"WA(Wheatbelt)","v":16.9},{"d":"2004-08","s":"WA(Wheatbelt)","v":16.4},{"d":"2004-09","s":"WA(Wheatbelt)","v":14.5},{"d":"2004-10","s":"WA(Wheatbelt)","v":12.8},{"d":"2004-11","s":"WA(Wheatbelt)","v":11.6},{"d":"2004-12","s":"WA(Wheatbelt)","v":11.0},
{"d":"2005-01","s":"WA(Wheatbelt)","v":10.9},{"d":"2005-02","s":"WA(Wheatbelt)","v":11.3},{"d":"2005-03","s":"WA(Wheatbelt)","v":11.8},{"d":"2005-04","s":"WA(Wheatbelt)","v":11.4},{"d":"2005-05","s":"WA(Wheatbelt)","v":14.0},{"d":"2005-06","s":"WA(Wheatbelt)","v":13.7},{"d":"2005-07","s":"WA(Wheatbelt)","v":14.6},{"d":"2005-08","s":"WA(Wheatbelt)","v":12.6},{"d":"2005-09","s":"WA(Wheatbelt)","v":14.6},{"d":"2005-10","s":"WA(Wheatbelt)","v":14.6},{"d":"2005-11","s":"WA(Wheatbelt)","v":14.4},{"d":"2005-12","s":"WA(Wheatbelt)","v":15.0},
{"d":"2006-01","s":"WA(Wheatbelt)","v":15.7},{"d":"2006-02","s":"WA(Wheatbelt)","v":17.4},{"d":"2006-03","s":"WA(Wheatbelt)","v":19.2},{"d":"2006-04","s":"WA(Wheatbelt)","v":24.0},{"d":"2006-05","s":"WA(Wheatbelt)","v":21.6},{"d":"2006-06","s":"WA(Wheatbelt)","v":20.8},{"d":"2006-07","s":"WA(Wheatbelt)","v":19.8},{"d":"2006-08","s":"WA(Wheatbelt)","v":19.4},{"d":"2006-09","s":"WA(Wheatbelt)","v":16.8},{"d":"2006-10","s":"WA(Wheatbelt)","v":16.0},{"d":"2006-11","s":"WA(Wheatbelt)","v":15.7},{"d":"2006-12","s":"WA(Wheatbelt)","v":14.9},
{"d":"2007-01","s":"WA(Wheatbelt)","v":13.8},{"d":"2007-02","s":"WA(Wheatbelt)","v":11.6},{"d":"2007-03","s":"WA(Wheatbelt)","v":8.1},{"d":"2007-04","s":"WA(Wheatbelt)","v":4.4},{"d":"2007-05","s":"WA(Wheatbelt)","v":3.6},{"d":"2007-06","s":"WA(Wheatbelt)","v":3.5},{"d":"2007-07","s":"WA(Wheatbelt)","v":3.3},{"d":"2007-08","s":"WA(Wheatbelt)","v":3.7},{"d":"2007-09","s":"WA(Wheatbelt)","v":4.1},{"d":"2007-10","s":"WA(Wheatbelt)","v":5.7},{"d":"2007-11","s":"WA(Wheatbelt)","v":6.1},{"d":"2007-12","s":"WA(Wheatbelt)","v":6.4},
{"d":"2008-01","s":"WA(Wheatbelt)","v":6.9},{"d":"2008-02","s":"WA(Wheatbelt)","v":7.7},{"d":"2008-03","s":"WA(Wheatbelt)","v":8.1},{"d":"2008-04","s":"WA(Wheatbelt)","v":8.9},{"d":"2008-05","s":"WA(Wheatbelt)","v":8.9},{"d":"2008-06","s":"WA(Wheatbelt)","v":9.0},{"d":"2008-07","s":"WA(Wheatbelt)","v":9.3},{"d":"2008-08","s":"WA(Wheatbelt)","v":9.6},{"d":"2008-09","s":"WA(Wheatbelt)","v":9.7},{"d":"2008-10","s":"WA(Wheatbelt)","v":7.8},{"d":"2008-11","s":"WA(Wheatbelt)","v":7.7},{"d":"2008-12","s":"WA(Wheatbelt)","v":7.8},
{"d":"2009-01","s":"WA(Wheatbelt)","v":8.2},{"d":"2009-02","s":"WA(Wheatbelt)","v":7.4},{"d":"2009-03","s":"WA(Wheatbelt)","v":7.2},{"d":"2009-04","s":"WA(Wheatbelt)","v":7.8},{"d":"2009-05","s":"WA(Wheatbelt)","v":8.4},{"d":"2009-06","s":"WA(Wheatbelt)","v":8.8},{"d":"2009-07","s":"WA(Wheatbelt)","v":9.2},{"d":"2009-08","s":"WA(Wheatbelt)","v":8.9},{"d":"2009-09","s":"WA(Wheatbelt)","v":8.6},{"d":"2009-10","s":"WA(Wheatbelt)","v":10.2},{"d":"2009-11","s":"WA(Wheatbelt)","v":12.4},{"d":"2009-12","s":"WA(Wheatbelt)","v":12.8},
{"d":"2010-01","s":"WA(Wheatbelt)","v":13.3},{"d":"2010-02","s":"WA(Wheatbelt)","v":14.2},{"d":"2010-03","s":"WA(Wheatbelt)","v":13.7},{"d":"2010-04","s":"WA(Wheatbelt)","v":16.0},{"d":"2010-05","s":"WA(Wheatbelt)","v":16.4},{"d":"2010-06","s":"WA(Wheatbelt)","v":15.3},{"d":"2010-07","s":"WA(Wheatbelt)","v":15.5},{"d":"2010-08","s":"WA(Wheatbelt)","v":16.7},{"d":"2010-09","s":"WA(Wheatbelt)","v":16.8},{"d":"2010-10","s":"WA(Wheatbelt)","v":14.6},{"d":"2010-11","s":"WA(Wheatbelt)","v":14.8},{"d":"2010-12","s":"WA(Wheatbelt)","v":14.8},
{"d":"2011-01","s":"WA(Wheatbelt)","v":14.1},{"d":"2011-02","s":"WA(Wheatbelt)","v":12.9},{"d":"2011-03","s":"WA(Wheatbelt)","v":14.6},{"d":"2011-04","s":"WA(Wheatbelt)","v":14.9},{"d":"2011-05","s":"WA(Wheatbelt)","v":12.1},{"d":"2011-06","s":"WA(Wheatbelt)","v":12.1},{"d":"2011-07","s":"WA(Wheatbelt)","v":12.6},{"d":"2011-08","s":"WA(Wheatbelt)","v":13.6},{"d":"2011-09","s":"WA(Wheatbelt)","v":16.3},{"d":"2011-10","s":"WA(Wheatbelt)","v":19.0},{"d":"2011-11","s":"WA(Wheatbelt)","v":27.3},{"d":"2011-12","s":"WA(Wheatbelt)","v":25.2},
{"d":"2012-01","s":"WA(Wheatbelt)","v":27.1},{"d":"2012-02","s":"WA(Wheatbelt)","v":27.3},{"d":"2012-03","s":"WA(Wheatbelt)","v":29.8},{"d":"2012-04","s":"WA(Wheatbelt)","v":29.8},{"d":"2012-05","s":"WA(Wheatbelt)","v":32.6},{"d":"2012-06","s":"WA(Wheatbelt)","v":33.8},{"d":"2012-07","s":"WA(Wheatbelt)","v":39.7},{"d":"2012-08","s":"WA(Wheatbelt)","v":41.8},{"d":"2012-09","s":"WA(Wheatbelt)","v":41.3},{"d":"2012-10","s":"WA(Wheatbelt)","v":41.1},{"d":"2012-11","s":"WA(Wheatbelt)","v":34.2},{"d":"2012-12","s":"WA(Wheatbelt)","v":35.2},
{"d":"2013-01","s":"WA(Wheatbelt)","v":33.3},{"d":"2013-02","s":"WA(Wheatbelt)","v":33.0},{"d":"2013-03","s":"WA(Wheatbelt)","v":27.3},{"d":"2013-04","s":"WA(Wheatbelt)","v":26.7},{"d":"2013-05","s":"WA(Wheatbelt)","v":24.7},{"d":"2013-06","s":"WA(Wheatbelt)","v":24.6},{"d":"2013-07","s":"WA(Wheatbelt)","v":19.2},{"d":"2013-08","s":"WA(Wheatbelt)","v":17.9},{"d":"2013-09","s":"WA(Wheatbelt)","v":15.4},{"d":"2013-10","s":"WA(Wheatbelt)","v":14.8},{"d":"2013-11","s":"WA(Wheatbelt)","v":15.1},{"d":"2013-12","s":"WA(Wheatbelt)","v":14.4},
{"d":"2014-01","s":"WA(Wheatbelt)","v":14.4},{"d":"2014-02","s":"WA(Wheatbelt)","v":16.0},{"d":"2014-03","s":"WA(Wheatbelt)","v":17.6},{"d":"2014-04","s":"WA(Wheatbelt)","v":18.3},{"d":"2014-05","s":"WA(Wheatbelt)","v":35.3},{"d":"2014-06","s":"WA(Wheatbelt)","v":34.5},{"d":"2014-07","s":"WA(Wheatbelt)","v":36.2},{"d":"2014-08","s":"WA(Wheatbelt)","v":37.9},{"d":"2014-09","s":"WA(Wheatbelt)","v":45.0},{"d":"2014-10","s":"WA(Wheatbelt)","v":46.0},{"d":"2014-11","s":"WA(Wheatbelt)","v":47.8},{"d":"2014-12","s":"WA(Wheatbelt)","v":47.9},
{"d":"2015-01","s":"WA(Wheatbelt)","v":51.9},{"d":"2015-02","s":"WA(Wheatbelt)","v":52.2},{"d":"2015-03","s":"WA(Wheatbelt)","v":50.9},{"d":"2015-04","s":"WA(Wheatbelt)","v":52.4},{"d":"2015-05","s":"WA(Wheatbelt)","v":33.5},{"d":"2015-06","s":"WA(Wheatbelt)","v":34.0},{"d":"2015-07","s":"WA(Wheatbelt)","v":33.3},{"d":"2015-08","s":"WA(Wheatbelt)","v":34.8},{"d":"2015-09","s":"WA(Wheatbelt)","v":30.1},{"d":"2015-10","s":"WA(Wheatbelt)","v":25.7},{"d":"2015-11","s":"WA(Wheatbelt)","v":23.9},{"d":"2015-12","s":"WA(Wheatbelt)","v":24.0},
{"d":"2016-01","s":"WA(Wheatbelt)","v":23.9},{"d":"2016-02","s":"WA(Wheatbelt)","v":23.4},{"d":"2016-03","s":"WA(Wheatbelt)","v":26.1},{"d":"2016-04","s":"WA(Wheatbelt)","v":23.7},{"d":"2016-05","s":"WA(Wheatbelt)","v":27.4},{"d":"2016-06","s":"WA(Wheatbelt)","v":26.9},{"d":"2016-07","s":"WA(Wheatbelt)","v":25.4},{"d":"2016-08","s":"WA(Wheatbelt)","v":21.5},{"d":"2016-09","s":"WA(Wheatbelt)","v":19.8},{"d":"2016-10","s":"WA(Wheatbelt)","v":19.7},{"d":"2016-11","s":"WA(Wheatbelt)","v":20.7},{"d":"2016-12","s":"WA(Wheatbelt)","v":21.2},
{"d":"2017-01","s":"WA(Wheatbelt)","v":18.0},{"d":"2017-02","s":"WA(Wheatbelt)","v":17.3},{"d":"2017-03","s":"WA(Wheatbelt)","v":15.6},{"d":"2017-04","s":"WA(Wheatbelt)","v":15.3},{"d":"2017-05","s":"WA(Wheatbelt)","v":13.3},{"d":"2017-06","s":"WA(Wheatbelt)","v":13.9},{"d":"2017-07","s":"WA(Wheatbelt)","v":17.1},{"d":"2017-08","s":"WA(Wheatbelt)","v":17.5},{"d":"2017-09","s":"WA(Wheatbelt)","v":18.3},{"d":"2017-10","s":"WA(Wheatbelt)","v":21.0},{"d":"2017-11","s":"WA(Wheatbelt)","v":19.7},{"d":"2017-12","s":"WA(Wheatbelt)","v":21.2},
{"d":"2018-01","s":"WA(Wheatbelt)","v":20.7},{"d":"2018-02","s":"WA(Wheatbelt)","v":20.2},{"d":"2018-03","s":"WA(Wheatbelt)","v":19.8},{"d":"2018-04","s":"WA(Wheatbelt)","v":20.2},{"d":"2018-05","s":"WA(Wheatbelt)","v":20.5},{"d":"2018-06","s":"WA(Wheatbelt)","v":20.8},{"d":"2018-07","s":"WA(Wheatbelt)","v":21.9},{"d":"2018-08","s":"WA(Wheatbelt)","v":19.0},{"d":"2018-09","s":"WA(Wheatbelt)","v":22.7},{"d":"2018-10","s":"WA(Wheatbelt)","v":21.0},{"d":"2018-11","s":"WA(Wheatbelt)","v":18.8},{"d":"2018-12","s":"WA(Wheatbelt)","v":18.9},
{"d":"2019-01","s":"WA(Wheatbelt)","v":17.6},{"d":"2019-02","s":"WA(Wheatbelt)","v":17.6},{"d":"2019-03","s":"WA(Wheatbelt)","v":17.1},{"d":"2019-04","s":"WA(Wheatbelt)","v":17.1},{"d":"2019-05","s":"WA(Wheatbelt)","v":19.7},{"d":"2019-06","s":"WA(Wheatbelt)","v":31.1}
]},
"encoding": {
  "x": {"field": "d", "type": "temporal",
    "scale": {"type": "utc", "domain": ["2001-05-16", "2019-06-16"]},
    "axis": {
      "title": ["Source: ABS 6291.0.55.001 - Labour Force, Australia, Detailed - Electronic Delivery, Jun 2019. Table 16c.", "Note: Data smoothed using a 12 month rolling average."],
      "titleFont": "Lato", "titleFontSize": 24.5, "titleFontWeight": "normal", "titleColor": "#808080",
      "titleAlign": "left", "titleAnchor": "start", "titleX": -48, "titleY": 141, "titleBaseline": "alphabetic", "titleLineHeight": 32,
      "tickCount": {"interval": "month", "step": 1},
      "labelExpr": "(utcyear(datum.value)*12 + utcmonth(datum.value) - 24017) % 5 == 0 ? utcFormat(datum.value, '%b-%Y') : ''",
      "labelAngle": 270, "labelAlign": "right", "labelBaseline": "middle",
      "labelFont": "DejaVu Sans", "labelFontSize": 19, "labelColor": "#595959",
      "labelOverlap": false, "labelBound": false, "labelFlush": false, "labelPadding": 10,
      "tickColor": "#d9d9d9", "tickSize": 6, "tickWidth": 1,
      "domainColor": "#d9d9d9", "domainWidth": 1.5, "grid": false
    }
  },
  "y": {"field": "v", "type": "quantitative",
    "scale": {"domain": [0, 60], "nice": false, "zero": true},
    "axis": {
      "values": [0, 10, 20, 30, 40, 50, 60],
      "title": "Weeks", "titleFont": "Lato", "titleFontSize": 32, "titleFontWeight": "normal", "titleColor": "#595959",
      "titleX": -80, "titleY": 397, "titleAngle": 270, "titleAlign": "center", "titleBaseline": "middle",
      "labelFont": "Lato", "labelFontSize": 28, "labelColor": "#595959", "labelPadding": 30,
      "ticks": false, "domain": false, "gridColor": "#d9d9d9", "gridWidth": 1.5
    }
  },
  "color": {"field": "s", "type": "nominal",
    "scale": {"domain": ["WA", "Bunb.", "WA(Wheatbelt)", "Mand.", "WA(N&S)"], "range": ["#FF0000", "#00B050", "#000000", "#0070C0", "#000000"]},
    "legend": {
      "orient": "none", "legendX": 146, "legendY": 95, "columns": 2, "columnPadding": 154, "rowPadding": 19.5,
      "title": null, "symbolType": "stroke", "symbolSize": 5625, "symbolStrokeWidth": 4.5, "symbolOffset": 22.5,
      "labelFont": "DejaVu Sans", "labelFontSize": 31.5, "labelColor": "#595959", "labelOffset": 24.5, "labelLimit": 0, "padding": 0,
      "encode": {"symbols": {"update": {"strokeWidth": {"signal": "datum.value === 'WA' ? 7 : 4.5"}}}}
    }
  },
  "strokeDash": {"field": "s", "type": "nominal",
    "scale": {"domain": ["WA", "Bunb.", "WA(Wheatbelt)", "Mand.", "WA(N&S)"], "range": [[1, 0], [1, 0], [1, 0], [1, 0], [10, 10]]},
    "legend": null
  }
},
"layer": [
  {"transform": [{"filter": "datum.s === 'WA'"}], "mark": {"type": "line", "strokeWidth": 7, "strokeJoin": "round", "strokeCap": "round"}},
  {"transform": [{"filter": "datum.s !== 'WA'"}], "mark": {"type": "line", "strokeWidth": 4.5, "strokeJoin": "round", "strokeCap": "round"}}
]
}
